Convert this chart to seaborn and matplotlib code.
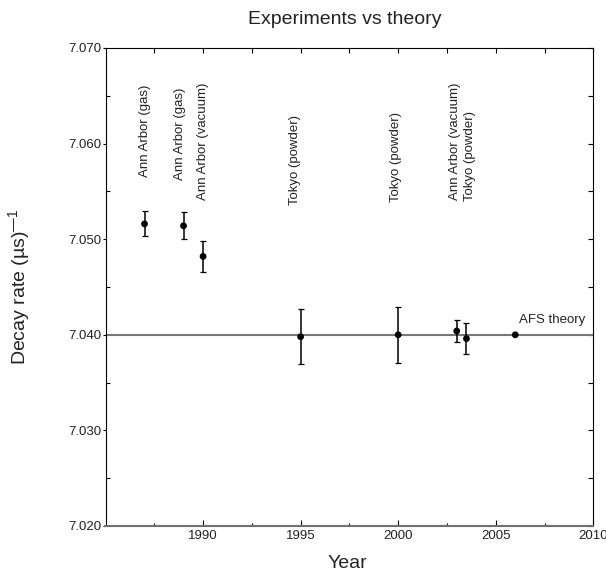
import matplotlib
matplotlib.use("Agg")
import matplotlib.pyplot as plt
import seaborn as sns
import pandas as pd
from matplotlib.ticker import MultipleLocator, FixedLocator, FormatStrFormatter

# ---- data ----
years = [1987, 1989, 1990, 1995, 2000, 2003, 2003.5]
rates = [7.0516, 7.0514, 7.0482, 7.0398, 7.0400, 7.0404, 7.0396]
errors = [0.0013, 0.0014, 0.0016, 0.0029, 0.0029, 0.0012, 0.0016]
labels = ["Ann Arbor (gas)", "Ann Arbor (gas)", "Ann Arbor (vacuum)",
          "Tokyo (powder)", "Tokyo (powder)", "Ann Arbor (vacuum)", "Tokyo (powder)"]
theory_year = 2006
theory_rate = 7.0400
theory_label = "AFS theory"
x_ticks = [1990, 1995, 2000, 2005, 2010]
y_ticks = [7.020, 7.030, 7.040, 7.050, 7.060, 7.070]

# label placement (bottom of rotated label, data y) and x nudge in points
label_y = [7.0565, 7.0562, 7.0541, 7.0536, 7.0539, 7.0541, 7.0540]
label_dx = [0, -2.7, -0.4, -4.0, -1.3, -1.2, 2.4]

sns.set_theme(style="white")
plt.rcParams["font.family"] = ["Liberation Sans", "DejaVu Sans"]
plt.rcParams["mathtext.fontset"] = "custom"
plt.rcParams["mathtext.rm"] = "Liberation Sans"

TXT = "#222222"
fig = plt.figure(figsize=(6.06, 5.78), dpi=100)
ax = fig.add_axes([105.5 / 606, 1 - 526 / 578, (593.3 - 105.5) / 606, (526 - 48) / 578])

df = pd.DataFrame({"year": years, "rate": rates, "err": errors, "label": labels})
tf = pd.DataFrame({"year": [theory_year], "rate": [theory_rate]})

ax.axhline(theory_rate, color="#777777", lw=1.5, zorder=1)
ax.errorbar(df["year"], df["rate"], yerr=df["err"], fmt="none", ecolor="black",
            elinewidth=1.1, capsize=2.4, capthick=0.9, zorder=2)
sns.scatterplot(data=df, x="year", y="rate", ax=ax, color="black", s=24,
                edgecolor="none", zorder=3, legend=False)
sns.scatterplot(data=tf, x="year", y="rate", ax=ax, color="black", s=24,
                edgecolor="none", zorder=3, legend=False)

for x, ly, dx, lab in zip(years, label_y, label_dx, labels):
    ax.annotate(lab, xy=(x, ly), xytext=(dx, 0), textcoords="offset points",
                rotation=90, ha="center", va="bottom", fontsize=9.5, color=TXT)
ax.annotate(theory_label, xy=(theory_year, theory_rate), xytext=(2.6, 8.5),
            textcoords="offset points", ha="left", va="baseline", fontsize=9.5, color=TXT)

ax.set_xlim(1985, 2010)
ax.set_ylim(7.020, 7.070)
ax.xaxis.set_major_locator(FixedLocator(x_ticks))
ax.xaxis.set_minor_locator(FixedLocator([t - 2.5 for t in x_ticks]))
ax.yaxis.set_major_locator(FixedLocator(y_ticks))
ax.yaxis.set_minor_locator(MultipleLocator(0.005))
ax.yaxis.set_major_formatter(FormatStrFormatter("%.3f"))

ax.tick_params(axis="x", which="major", direction="in", length=4.3, width=0.8,
               color="black", labelsize=9.5, labelcolor=TXT, pad=3.2,
               bottom=True, top=False)
ax.tick_params(axis="x", which="minor", direction="in", length=2.4, width=0.8,
               color="black", bottom=True, top=False)
ax.tick_params(axis="y", which="major", direction="out", length=2.2, width=0.8,
               color="black", labelsize=9.5, labelcolor=TXT, pad=0.8,
               left=True, right=False)
ax.tick_params(axis="y", which="minor", direction="in", length=2.8, width=0.8,
               color="black", left=True, right=False)

secx = ax.secondary_xaxis("top")
secx.xaxis.set_major_locator(FixedLocator(x_ticks))
secx.xaxis.set_minor_locator(FixedLocator([t - 2.5 for t in x_ticks]))
secx.tick_params(which="both", direction="in", length=3.6, width=0.8, color="black",
                 labeltop=False)
secx.spines["top"].set_visible(False)
secy = ax.secondary_yaxis("right")
secy.yaxis.set_major_locator(FixedLocator(y_ticks))
secy.yaxis.set_minor_locator(MultipleLocator(0.005))
secy.tick_params(which="both", direction="in", length=3.6, width=0.8, color="black",
                 labelright=False)
secy.spines["right"].set_visible(False)

for s in ["left", "top", "right"]:
    ax.spines[s].set_color("black")
    ax.spines[s].set_linewidth(0.8)
ax.spines["bottom"].set_color("#707070")
ax.spines["bottom"].set_linewidth(1.5)

ax.set_title("Experiments vs theory", fontsize=14, color=TXT, pad=17.6,
             x=(345 - 105.5) / 487.8)
ax.set_xlabel("Year", fontsize=14, color=TXT, va="top")
ax.xaxis.set_label_coords((347.5 - 105.5) / 487.8, -(555.5 - 526) / 478)
ax.set_ylabel("Decay rate (µs)$^{\\mathregular{—1}}$", fontsize=14, color=TXT)
ax.yaxis.set_label_coords((32.5 - 105.5) / 487.8, 0.5)

fig.savefig("out.png", dpi=100)
